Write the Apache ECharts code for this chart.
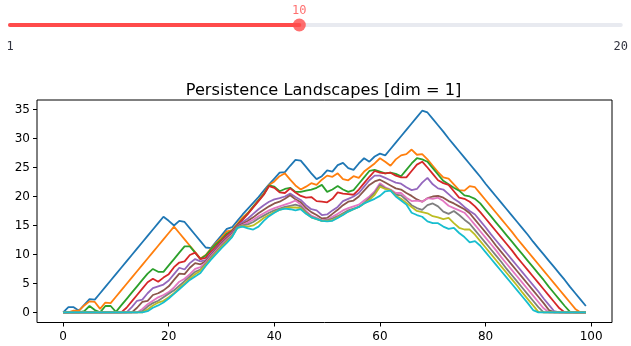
<!DOCTYPE html>
<html>
<head>
<meta charset="utf-8">
<script src="https://cdn.jsdelivr.net/npm/echarts@6/dist/echarts.min.js"></script>
<style>
html,body{margin:0;padding:0;background:#fff;}
#chart{width:631px;height:346px;}
</style>
</head>
<body>
<div id="chart"></div>
<script>
// ---- Data ----
const sliderMin = 1;
const sliderMax = 20;
const sliderValue = 10;

const titleText = 'Persistence Landscapes [dim = 1]';
const xTicks = [0, 20, 40, 60, 80, 100];
const yTicks = [0, 5, 10, 15, 20, 25, 30, 35];
const xValues = [0,1,2,3,4,5,6,7,8,9,10,11,12,13,14,15,16,17,18,19,20,21,22,23,24,25,26,27,28,29,30,31,32,33,34,35,36,37,38,39,40,41,42,43,44,45,46,47,48,49,50,51,52,53,54,55,56,57,58,59,60,61,62,63,64,65,66,67,68,69,70,71,72,73,74,75,76,77,78,79,80,81,82,83,84,85,86,87,88,89,90,91,92,93,94,95,96,97,98,99];

const lambda1 = [0,0.9,0.9,0.3,1.3,2.3,2.2,3.3,4.4,5.5,6.6,7.7,8.8,9.9,11.0,12.1,13.2,14.3,15.4,16.5,15.8,15.0,15.8,15.6,14.5,13.4,12.3,11.2,11.1,12.2,13.3,14.4,14.7,15.8,16.9,17.9,18.9,19.9,21.0,22.1,23.1,24.1,24.2,25.3,26.3,26.2,25.1,24.0,23.0,23.5,24.5,24.3,25.4,25.8,24.9,24.6,25.7,26.6,26.0,26.9,27.4,27.1,28.2,29.3,30.4,31.5,32.6,33.7,34.8,34.5,33.4,32.3,31.2,30.0,28.9,27.8,26.7,25.6,24.5,23.4,22.2,21.1,20.0,18.9,17.8,16.7,15.6,14.5,13.4,12.2,11.1,10.0,8.9,7.8,6.7,5.6,4.4,3.3,2.2,1.1];
const lambda2 = [0,0,0.3,0.3,1.2,1.9,1.8,0.6,1.7,1.6,2.7,3.8,4.9,6.0,7.1,8.2,9.3,10.4,11.5,12.6,13.7,14.8,13.7,12.6,11.5,10.4,9.3,9.9,11.0,12.0,12.9,14.0,14.2,15.3,16.4,17.2,18.3,19.4,20.5,22.0,22.6,23.5,24.0,22.9,21.9,21.2,21.7,22.3,22.0,22.9,23.6,23.4,24.0,23.0,22.8,23.5,23.2,24.3,25.0,25.7,26.6,26.0,25.3,26.4,27.1,27.3,28.1,27.2,27.3,26.4,25.3,24.2,23.3,23.1,22.1,21.1,21.0,21.8,21.6,20.5,19.4,18.3,17.2,16.1,15.0,13.9,12.7,11.6,10.5,9.4,8.3,7.2,6.1,5.0,3.9,2.8,1.7,0.6,0,0];
const lambda3 = [0,0,0,0,0.2,1.1,0.4,0,1.1,1.1,0.1,1.2,2.3,3.4,4.5,5.6,6.7,7.5,7.0,7.0,8.1,9.2,10.3,11.4,11.4,10.3,9.2,9.8,10.9,11.8,12.6,13.6,14.1,15.1,16.1,17.1,18.2,19.3,20.4,21.9,21.7,20.9,21.3,21.5,20.8,20.8,21.0,21.2,21.5,22.0,20.8,21.2,21.8,21.2,20.8,21.1,22.2,23.3,24.4,24.6,24.3,24.0,24.1,23.9,23.5,24.6,25.7,26.6,26.4,26.0,24.9,23.8,22.7,22.1,21.5,21.0,20.2,20.0,19.6,18.8,17.7,16.6,15.5,14.4,13.3,12.2,11.1,10.0,8.9,7.8,6.7,5.6,4.4,3.3,2.2,1.1,0.1,0,0,0];
const lambda4 = [0,0,0,0,0,0,0,0,0,0,0,0,0.8,1.9,3.0,4.1,5.2,5.8,5.3,6.0,6.6,7.8,8.6,8.8,9.9,10.3,9.2,9.4,10.5,11.4,12.4,13.3,14.0,15.0,16.0,17.0,18.1,19.2,20.3,21.8,21.5,20.7,20.6,21.4,20.7,20.1,19.8,19.9,19.2,19.1,19.0,19.6,20.7,20.5,20.4,20.3,21.2,22.3,23.4,24.4,24.1,24.0,24.1,23.6,23.3,23.3,24.4,25.5,26.0,25.0,23.9,22.8,22.3,22.0,20.9,19.8,19.6,19.1,18.3,17.3,16.2,15.1,14.0,12.9,11.8,10.7,9.5,8.4,7.3,6.2,5.1,4.0,2.9,1.8,0.7,0,0,0,0,0];
const lambda5 = [0,0,0,0,0,0,0,0,0,0,0,0,0,0.9,2.0,2.2,3.3,4.2,4.5,4.8,5.5,6.6,7.7,7.4,8.5,9.2,8.8,9.0,10.1,11.1,12.1,13.0,13.8,14.9,15.6,16.2,17.0,17.8,18.5,19.1,19.5,19.7,20.0,20.5,19.9,19.4,18.5,17.8,17.6,16.8,16.9,17.6,18.2,19.2,19.6,20.0,20.6,21.7,22.8,23.6,23.6,23.2,22.8,22.4,22.2,21.6,21.1,21.3,22.4,23.2,22.1,21.4,21.2,20.4,19.6,19.0,18.2,17.5,16.9,15.8,14.7,13.5,12.4,11.3,10.2,9.1,8.0,6.9,5.8,4.7,3.6,2.4,1.3,0.2,0,0,0,0,0,0];
const lambda6 = [0,0,0,0,0,0,0,0,0,0,0,0,0,0,0.8,1.8,2.0,3.0,3.3,3.8,4.5,5.6,6.7,6.6,7.7,8.5,8.3,8.8,9.9,10.9,11.9,12.8,13.6,14.8,15.3,15.8,16.4,17.1,17.7,18.3,18.8,19.1,19.6,20.2,19.5,19.0,18.0,17.3,16.8,16.2,16.3,17.0,17.7,18.5,19.1,19.3,20.0,21.0,22.0,22.6,22.9,22.4,21.9,21.4,21.2,20.6,20.1,19.5,19.1,19.7,20.0,20.1,19.8,19.2,18.8,18.3,17.8,17.1,16.0,14.9,13.8,12.7,11.5,10.4,9.3,8.2,7.1,6.0,4.9,3.8,2.7,1.6,0.4,0,0,0,0,0,0,0];
const lambda7 = [0,0,0,0,0,0,0,0,0,0,0,0,0,0,0,0.6,1.4,2.0,2.6,3.0,3.5,4.3,5.3,5.8,6.6,7.5,7.8,8.6,9.7,10.7,11.7,12.6,13.4,14.7,15.1,15.5,16.0,16.6,17.1,17.6,18.0,18.3,18.6,18.9,19.3,18.6,17.5,16.7,16.3,15.9,16.0,16.5,17.0,17.6,18.0,18.3,18.6,19.3,20.0,20.9,22.3,21.6,21.2,20.6,20.6,19.8,19.2,19.3,19.1,19.7,19.6,19.8,19.2,18.4,18.0,17.6,17.2,16.2,15.1,14.0,12.9,11.8,10.7,9.5,8.4,7.3,6.2,5.1,4.0,2.9,1.8,0.7,0,0,0,0,0,0,0,0];
const lambda8 = [0,0,0,0,0,0,0,0,0,0,0,0,0,0,0,0.2,1.0,1.6,2.0,2.6,3.2,3.8,4.6,5.4,6.2,7.0,7.4,8.4,9.5,10.5,11.5,12.4,13.2,14.7,15.0,15.2,15.6,16.2,16.7,17.2,17.6,17.9,18.2,18.4,18.6,18.3,17.3,16.5,16.2,15.8,15.9,16.2,16.6,17.1,17.6,17.9,18.2,18.9,19.7,20.6,22.0,21.4,21.1,20.3,20.2,19.4,18.5,18.0,17.7,18.5,18.8,18.3,17.4,17.0,17.5,16.8,16.0,15.3,14.2,13.1,12.0,10.9,9.8,8.7,7.5,6.4,5.3,4.2,3.1,2.0,0.9,0,0,0,0,0,0,0,0,0];
const lambda9 = [0,0,0,0,0,0,0,0,0,0,0,0,0,0,0,0,0.5,1.2,1.7,2.0,2.6,3.3,4.2,5.0,5.8,6.6,7.2,8.2,9.3,10.3,11.3,12.2,13.1,14.6,14.9,14.8,15.0,15.6,16.3,16.8,17.3,17.7,18.0,18.1,18.1,18.0,17.1,16.4,16.1,15.8,15.8,15.9,16.4,16.9,17.4,17.8,18.2,18.8,19.4,20.3,21.7,21.3,21.1,20.1,19.6,18.9,18.2,17.5,17.3,17.1,16.6,16.4,16.1,16.3,15.4,14.6,14.3,14.3,13.4,12.3,11.2,10.1,9.0,7.9,6.8,5.7,4.6,3.4,2.3,1.2,0.1,0,0,0,0,0,0,0,0,0];
const lambda10 = [0,0,0,0,0,0,0,0,0,0,0,0,0,0,0,0,0.2,0.8,1.2,1.7,2.4,3.2,4.0,4.8,5.6,6.2,6.8,8.0,9.1,10.1,11.1,12.0,13.0,14.6,14.8,14.5,14.3,14.8,15.8,16.6,17.2,17.7,17.9,17.8,17.6,17.8,17.0,16.4,16.1,15.8,15.7,15.8,16.3,16.8,17.4,17.8,18.2,18.8,19.2,19.6,20.1,20.9,21.0,20.0,19.3,18.6,17.2,16.8,16.5,15.7,15.4,15.4,14.8,14.4,14.6,13.7,13.0,12.1,12.3,11.5,10.4,9.3,8.2,7.1,6.0,4.9,3.8,2.7,1.6,0.4,0,0,0,0,0,0,0,0,0,0];

const landscapes = [lambda1, lambda2, lambda3, lambda4, lambda5, lambda6, lambda7, lambda8, lambda9, lambda10];
const colors = ['#1f77b4','#ff7f0e','#2ca02c','#d62728','#9467bd','#8c564b','#e377c2','#7f7f7f','#bcbd22','#17becf'];

// ---- Chart ----
const chart = echarts.init(document.getElementById('chart'), null, {renderer: 'canvas'});
const tickFont = {fontFamily: 'DejaVu Sans', fontSize: 12, color: '#000'};
const mono = 'DejaVu Sans Mono';

const lineSeries = landscapes.map((ys, k) => ({
  type: 'line',
  xAxisIndex: 0,
  yAxisIndex: 0,
  data: xValues.map((x, i) => [x, ys[i]]),
  showSymbol: false,
  symbol: 'none',
  lineStyle: {color: colors[k], width: 1.8},
  itemStyle: {color: colors[k]},
  z: 2 + k,
  silent: true
}));

const option = {
  animation: false,
  backgroundColor: '#fff',
  title: {
    text: titleText,
    left: 318.5,
    top: 78,
    textAlign: 'center',
    textStyle: {fontFamily: 'DejaVu Sans', fontSize: 16.2, fontWeight: 'normal', color: '#000'}
  },
  grid: [
    {left: 37, right: 19, top: 100, bottom: 23.5, show: true, borderColor: '#000', borderWidth: 1, backgroundColor: '#fff'},
    {left: 10, right: 9, top: 20, height: 10, show: false}
  ],
  xAxis: [
    {
      type: 'value', gridIndex: 0, min: -4.95, max: 103.95,
      axisLine: {show: false, onZero: false},
      splitLine: {show: false},
      axisTick: {show: true, inside: false, length: 4, lineStyle: {color: '#000', width: 1}, customValues: xTicks},
      axisLabel: Object.assign({margin: 8.5, customValues: xTicks}, tickFont)
    },
    {
      type: 'value', gridIndex: 1, min: sliderMin, max: sliderMax,
      axisLine: {show: false, onZero: false}, splitLine: {show: false}, axisTick: {show: false},
      axisLabel: {show: true, customValues: [sliderMin, sliderMax], margin: 10.5, fontFamily: mono, fontSize: 12, color: '#31333f'}
    }
  ],
  yAxis: [
    {
      type: 'value', gridIndex: 0, min: -1.745, max: 36.65,
      axisLine: {show: false, onZero: false},
      splitLine: {show: false},
      axisTick: {show: true, inside: false, length: 4, lineStyle: {color: '#000', width: 1}, customValues: yTicks},
      axisLabel: Object.assign({margin: 7, customValues: yTicks}, tickFont)
    },
    {
      type: 'value', gridIndex: 1, min: -1, max: 1, show: false
    }
  ],
  series: [
    {
      type: 'line', xAxisIndex: 1, yAxisIndex: 1,
      data: [[sliderMin, 0], [sliderMax, 0]],
      symbol: 'none', silent: true,
      lineStyle: {color: '#e8eaf0', width: 4, cap: 'round'}, z: 1
    },
    {
      type: 'line', xAxisIndex: 1, yAxisIndex: 1,
      data: [[sliderMin, 0], [sliderValue, 0]],
      symbol: 'none', silent: true,
      lineStyle: {color: '#ff4b4b', width: 4, cap: 'round'}, z: 2
    },
    {
      type: 'scatter', xAxisIndex: 1, yAxisIndex: 1,
      data: [[sliderValue, 0]],
      symbol: 'circle', symbolSize: 13, silent: true,
      itemStyle: {color: '#ff4b4b'},
      label: {show: true, position: 'top', distance: 1.5, formatter: String(sliderValue), fontFamily: mono, fontSize: 12, color: '#ff4b4b'},
      z: 3
    }
  ].concat(lineSeries)
};
chart.setOption(option);
</script>
</body>
</html>
